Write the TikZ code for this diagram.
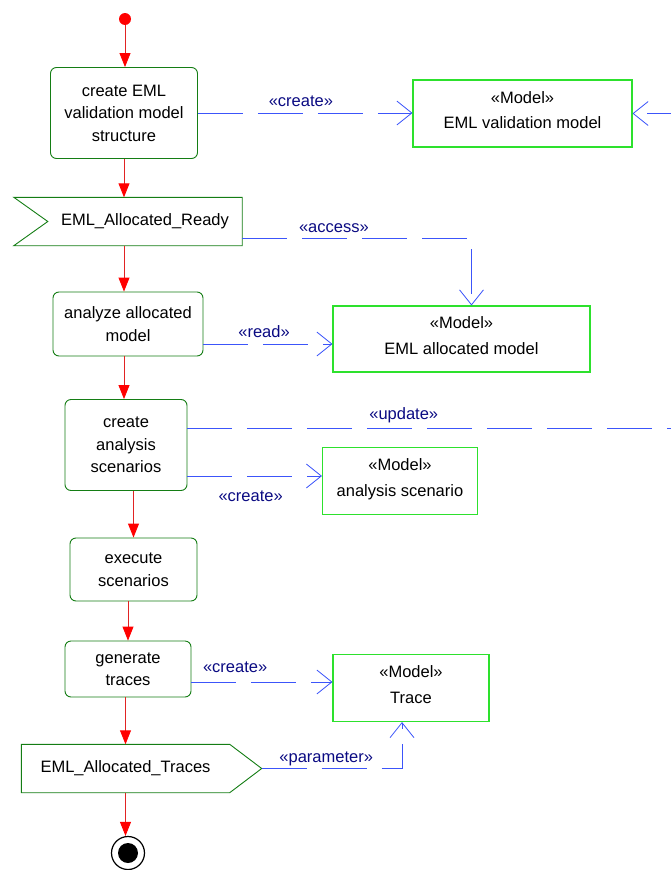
\documentclass[tikz,border=0pt]{standalone}
\usepackage{fontspec}
\setmainfont{Liberation Sans}
\usetikzlibrary{arrows.meta,calc}
\definecolor{actgreen}{RGB}{20,125,20}
\definecolor{modgreen}{RGB}{45,225,45}
\definecolor{depblue}{RGB}{60,85,250}
\definecolor{lblnavy}{RGB}{10,10,130}
\definecolor{flowred}{RGB}{225,35,35}
\tikzset{
  action/.style={draw=actgreen,rounded corners=6pt,align=center,inner sep=0pt,line width=0.9pt},
  modelbox/.style={draw=modgreen,align=center,inner sep=0pt,line width=1.1pt},
  signal/.style={inner sep=0pt,minimum height=48pt},
  sigshape/.style={draw=actgreen,line width=0.9pt},
  flow/.style={-{Triangle[length=14pt,width=11pt,color=red]},line width=0.9pt,draw=flowred},
  dep/.style={-{Straight Barb[length=15pt,width=24pt]},line width=0.8pt,draw=depblue,dash pattern=on 45pt off 15pt},
  stereo/.style={text=lblnavy,inner sep=1pt}
}
\begin{document}
\begin{tikzpicture}[x=1pt,y=-1pt,font=\fontsize{16.5}{22.5}\selectfont]
  \useasboundingbox (0,0) rectangle (671,870);
  \node[fill=red,circle,inner sep=0pt,minimum size=12pt] (init) at (125,19) {};
  \node[action,minimum width=147pt,minimum height=91pt] (crEML) at (124,113) {create EML\\validation model\\structure};
  \node[modelbox,minimum width=219pt,minimum height=67pt] (evm) at (522.5,113.5) {«Model»\\[3pt]EML validation model\\[-16pt]};

  \node[signal,minimum width=194pt] (rdy) at (145,221.5) {EML\_Allocated\_Ready};
  \draw[sigshape] (rdy.north east) -- (rdy.south east) -- ([xshift=-34pt]rdy.south west)
    -- (rdy.west) -- ([xshift=-34pt]rdy.north west) -- cycle;

  \node[action,minimum width=150pt,minimum height=64pt] (anlz) at (128,324) {analyze allocated\\model};
  \node[modelbox,minimum width=257pt,minimum height=66pt] (eam) at (461.5,339) {«Model»\\[3pt]EML allocated model\\[-16pt]};
  \node[action,minimum width=122pt,minimum height=91pt] (crScn) at (126,445) {create\\analysis\\scenarios};
  \node[modelbox,minimum width=155pt,minimum height=67pt] (asc) at (400,481) {«Model»\\[3pt]analysis scenario\\[-16pt]};
  \node[action,minimum width=127pt,minimum height=63pt] (exec) at (133.5,569.5) {execute\\scenarios};
  \node[action,minimum width=126pt,minimum height=56pt] (gen) at (128,669) {generate\\traces};
  \node[modelbox,minimum width=156pt,minimum height=67pt] (trc) at (411,688) {«Model»\\[3pt]Trace\\[-16pt]};

  \node[signal,minimum width=208pt] (trcs) at (125.5,768.5) {EML\_Allocated\_Traces};
  \coordinate (trcsTip) at ($(trcs.east)+(32,0)$);
  \draw[sigshape] (trcs.north west) -- (trcs.north east) -- (trcsTip) -- (trcs.south east)
    -- (trcs.south west) -- cycle;

  \node[circle,draw,line width=1.2pt,minimum size=33pt,inner sep=0pt] (final) at (128,853) {};
  \fill (final.center) circle (10pt);

  % control flow
  \draw[flow] (init) -- (init |- crEML.north);
  \draw[flow] (crEML) -- (crEML |- rdy.north);
  \draw[flow] (rdy.south -| crEML) -- (anlz.north -| crEML);
  \draw[flow] (anlz.south -| crEML) -- (crScn.north -| crEML);
  \draw[flow] (crScn.south -| exec) -- (exec.north);
  \draw[flow] (exec.south -| gen) -- (gen.north);
  \draw[flow] (gen.south -| trcs) -- (trcs.north);
  \draw[flow] (trcs.south) -- (trcs.south |- final.north);

  % object flows
  \draw[dep] (crEML.east) -- node[stereo,pos=0.48,above=5pt]{«create»} (crEML.east -| evm.west);
  \draw[dep] ([yshift=7pt]rdy.south east) -| node[stereo,pos=0.2,above=5pt]{«access»} ([xshift=10pt]eam.north);
  \draw[dep] ([yshift=-20pt]anlz.east) -- node[stereo,pos=0.47,above=5pt]{«read»} ([yshift=-20pt]anlz.east -| eam.west);
  \draw[dep] ([yshift=17pt]crScn.east) -- node[stereo,pos=0.42,above=4pt]{«update»} ++(515,0) |- (evm.east);
  \draw[dep] ([yshift=-31pt]crScn.east) -- node[stereo,pos=0.47,below=13pt]{«create»} ([yshift=-31pt]crScn.east -| asc.west);
  \draw[dep] ([yshift=-13pt]gen.east) -- node[stereo,pos=0.31,above=8pt]{«create»} ([yshift=-13pt]gen.east -| trc.west);
  \draw[dep] (trcsTip) -| node[stereo,pos=0.23,above=1pt]{«parameter»} ([xshift=-9pt]trc.south);
\end{tikzpicture}
\end{document}
